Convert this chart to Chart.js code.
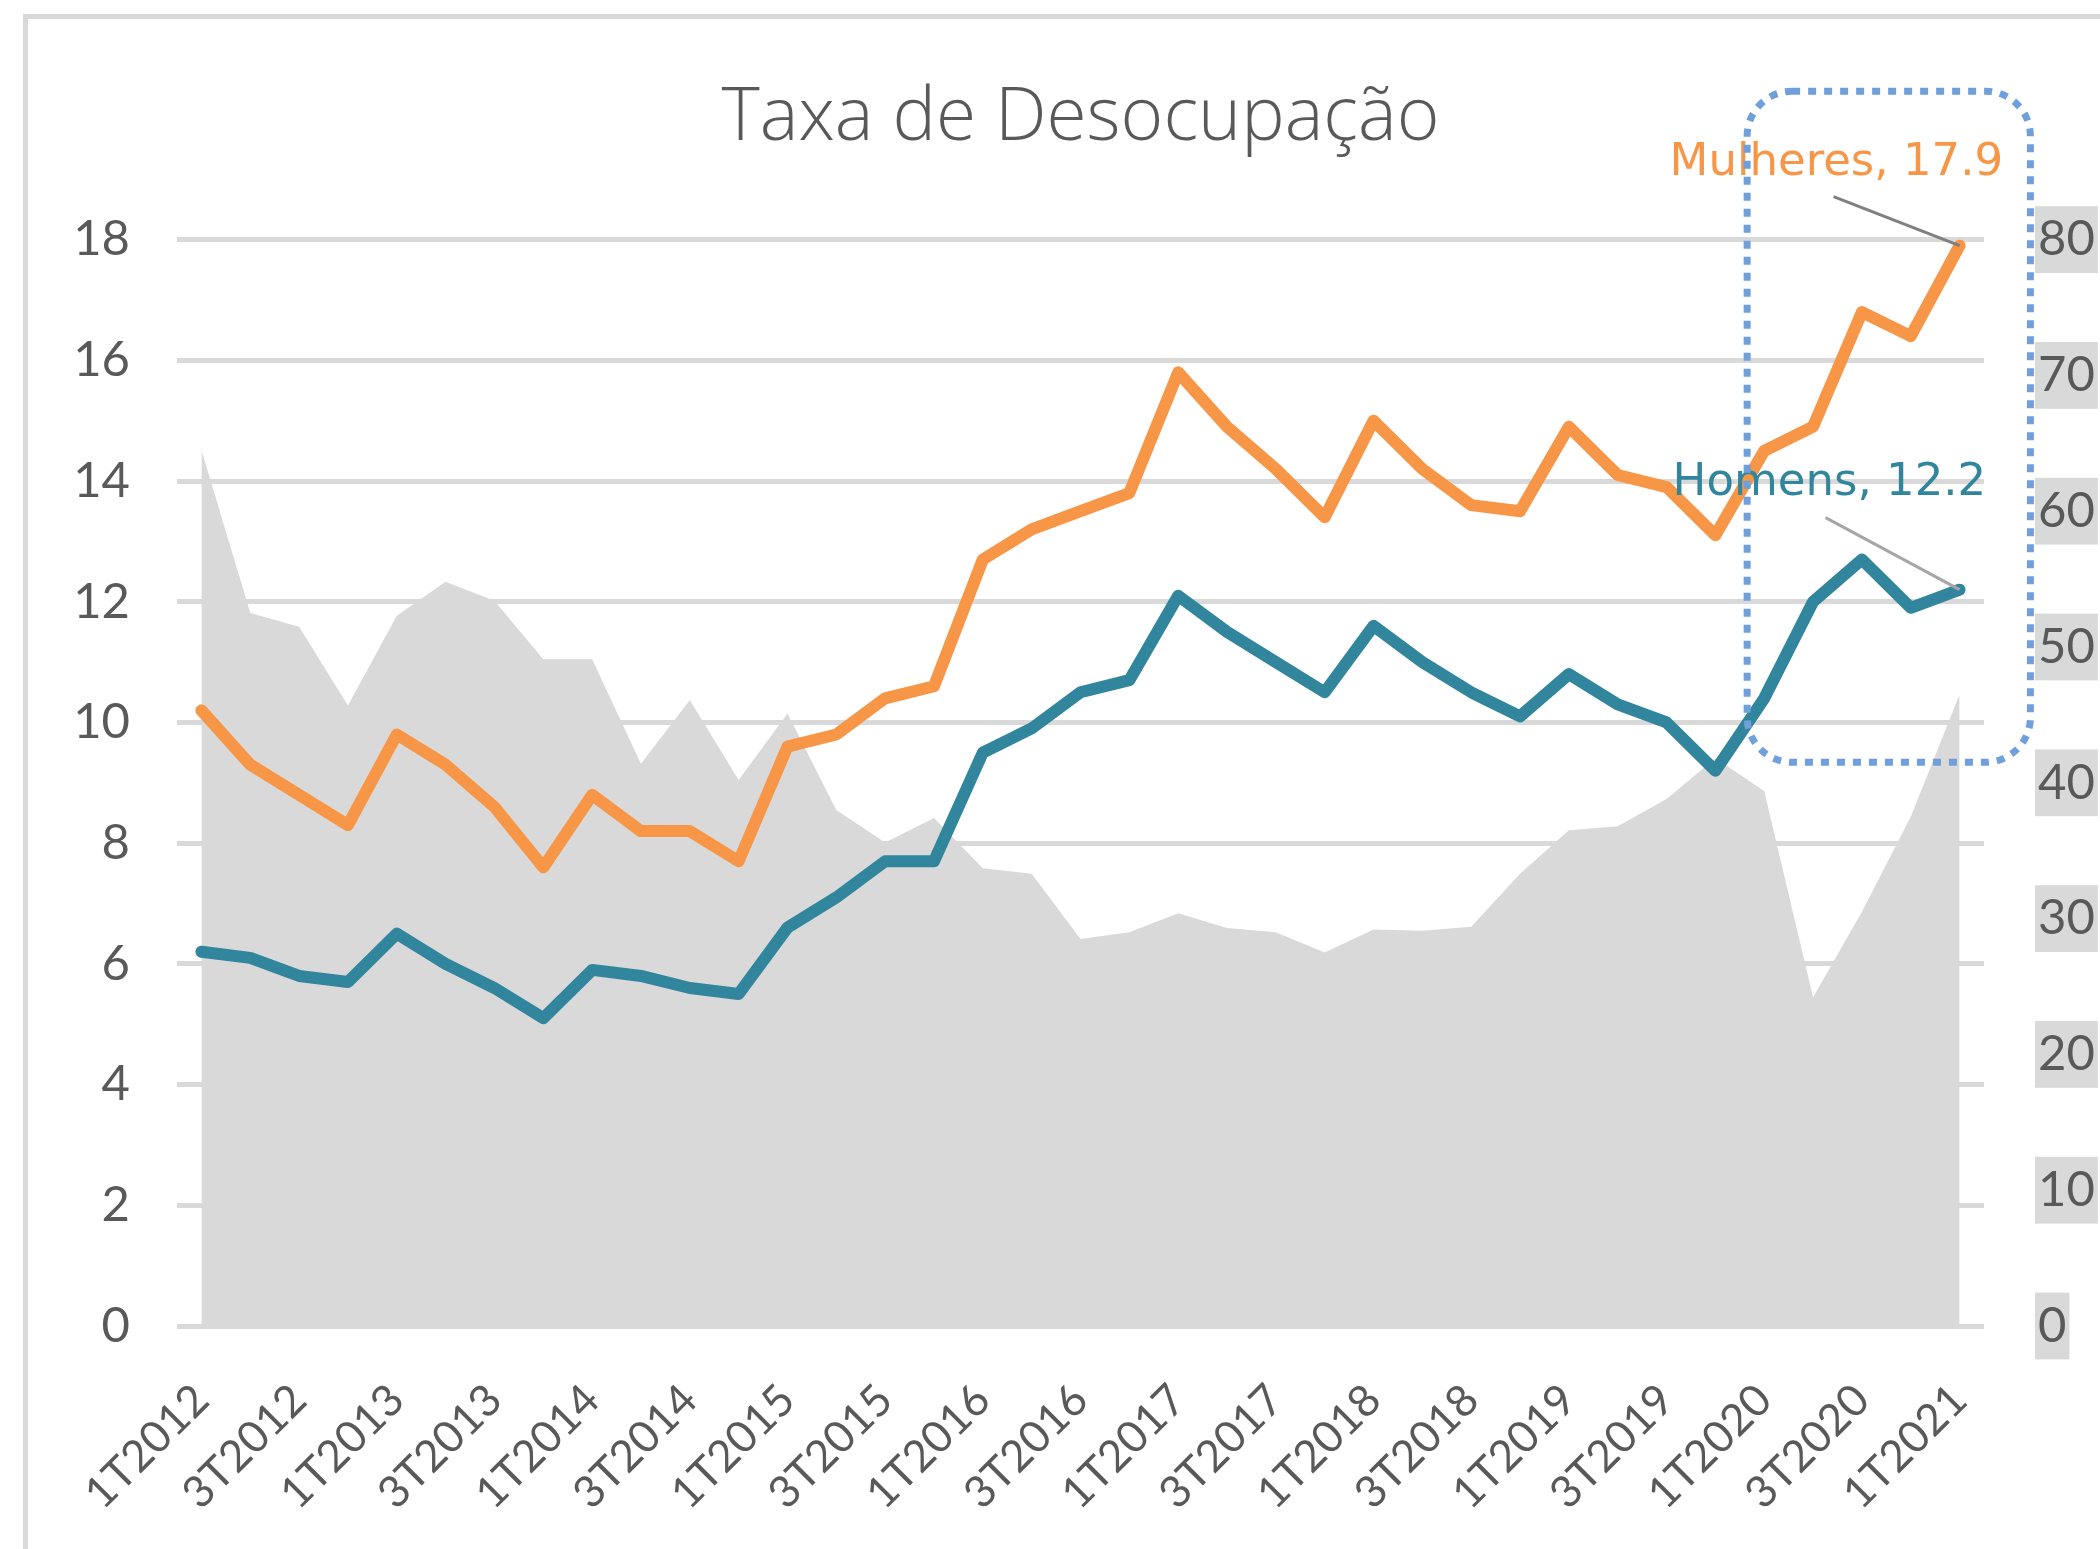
<!DOCTYPE html>
<html>
<head>
<meta charset="utf-8">
<script src="https://cdn.jsdelivr.net/npm/chart.js@4.4.1/dist/chart.umd.min.js"></script>
<style>
html,body{margin:0;padding:0;background:#ffffff;overflow:hidden;}
canvas{display:block;}
</style>
</head>
<body>
<canvas id="c" width="2100" height="1549"></canvas>
<script>
// ---- data ----
const categories = [
  '1T2012','2T2012','3T2012','4T2012',
  '1T2013','2T2013','3T2013','4T2013',
  '1T2014','2T2014','3T2014','4T2014',
  '1T2015','2T2015','3T2015','4T2015',
  '1T2016','2T2016','3T2016','4T2016',
  '1T2017','2T2017','3T2017','4T2017',
  '1T2018','2T2018','3T2018','4T2018',
  '1T2019','2T2019','3T2019','4T2019',
  '1T2020','2T2020','3T2020','4T2020',
  '1T2021'
];
const mulheres = [10.2, 9.3, 8.8, 8.3, 9.8, 9.3, 8.6, 7.6, 8.8, 8.2, 8.2, 7.7,
                  9.6, 9.8, 10.4, 10.6, 12.7, 13.2, 13.5, 13.8, 15.8, 14.9, 14.2, 13.4,
                  15.0, 14.2, 13.6, 13.5, 14.9, 14.1, 13.9, 13.1, 14.5, 14.9, 16.8, 16.4, 17.9];
const homens = [6.2, 6.1, 5.8, 5.7, 6.5, 6.0, 5.6, 5.1, 5.9, 5.8, 5.6, 5.5,
                6.6, 7.1, 7.7, 7.7, 9.5, 9.9, 10.5, 10.7, 12.1, 11.5, 11.0, 10.5,
                11.6, 11.0, 10.5, 10.1, 10.8, 10.3, 10.0, 9.2, 10.4, 12.0, 12.7, 11.9, 12.2];
const diferenca = [64.5, 52.5, 51.5, 45.7, 52.3, 54.8, 53.4, 49.1, 49.1, 41.4, 46.1, 40.2,
                   45.1, 38.0, 35.6, 37.4, 33.7, 33.3, 28.5, 29.0, 30.4, 29.3, 29.0, 27.5,
                   29.2, 29.1, 29.4, 33.3, 36.5, 36.8, 38.8, 41.8, 39.4, 24.2, 30.5, 37.5, 46.5];
const leftAxis = {min: 0, max: 18, step: 2};
const rightAxis = {min: 0, max: 80, step: 10};
const titleText = 'Taxa de Desocupação';

// ---- styles ----
const TEXT = '#595959';
const GRID = '#D9D9D9';
const ORANGE = '#F79646';
const TEAL = '#31859C';
const tickFont = {family: 'Lato', size: 49};

const framePlugin = {
  id: 'frame',
  beforeDraw(chart) {
    const c = chart.ctx;
    c.save();
    c.fillStyle = '#FFFFFF';
    c.fillRect(0, 0, chart.width, chart.height);
    c.fillStyle = GRID;
    c.fillRect(23, 14, chart.width - 23, 5);
    c.fillRect(23, 14, 5, chart.height - 14);
    c.restore();
  }
};

// data labels for the last point of each line series, with leader lines
const labelSpecs = {
  0: {lx: -126, ly: -49, tx: -290, ty: -71, lead: '#7F7F7F'},
  1: {lx: -134, ly: -72, tx: -287, ty: -95, lead: '#A6A6A6'}
};
const labelPlugin = {
  id: 'endLabels',
  afterDatasetsDraw(chart) {
    const c = chart.ctx;
    c.save();
    Object.keys(labelSpecs).forEach(k => {
      const i = +k;
      const s = labelSpecs[i];
      const ds = chart.data.datasets[i];
      const meta = chart.getDatasetMeta(i);
      const last = meta.data.length - 1;
      const p = meta.data[last];
      c.strokeStyle = s.lead;
      c.lineWidth = 3;
      c.beginPath();
      c.moveTo(p.x, p.y);
      c.lineTo(p.x + s.lx, p.y + s.ly);
      c.stroke();
      c.fillStyle = ds.borderColor;
      c.font = '45px "DejaVu Sans"';
      c.textAlign = 'left';
      c.textBaseline = 'alphabetic';
      c.fillText(ds.label + ', ' + ds.data[last].toFixed(1), p.x + s.tx, p.y + s.ty);
    });
    c.restore();
  }
};

// dotted rounded highlight box around the last quarters
const boxPlugin = {
  id: 'highlightBox',
  afterDraw(chart) {
    const xs = chart.scales.x, ys = chart.scales.y;
    const x1 = xs.getPixelForValue(31.65), x2 = xs.getPixelForValue(37.45);
    const y1 = ys.getPixelForValue(20.46), y2 = ys.getPixelForValue(9.34);
    const r = 45;
    const c = chart.ctx;
    c.save();
    c.strokeStyle = '#6FA0DC';
    c.lineWidth = 7;
    c.setLineDash([8, 8]);
    c.beginPath();
    c.moveTo(x1 + r, y1);
    c.lineTo(x2 - r, y1);
    c.arcTo(x2, y1, x2, y1 + r, r);
    c.lineTo(x2, y2 - r);
    c.arcTo(x2, y2, x2 - r, y2, r);
    c.lineTo(x1 + r, y2);
    c.arcTo(x1, y2, x1, y2 - r, r);
    c.lineTo(x1, y1 + r);
    c.arcTo(x1, y1, x1 + r, y1, r);
    c.closePath();
    c.stroke();
    c.restore();
  }
};

new Chart(document.getElementById('c'), {
  type: 'line',
  data: {
    labels: categories,
    datasets: [
      {label: 'Mulheres', data: mulheres, borderColor: ORANGE, backgroundColor: ORANGE,
       borderWidth: 12, pointRadius: 0, fill: false, yAxisID: 'y', order: 1,
       borderJoinStyle: 'round', borderCapStyle: 'round', tension: 0},
      {label: 'Homens', data: homens, borderColor: TEAL, backgroundColor: TEAL,
       borderWidth: 12, pointRadius: 0, fill: false, yAxisID: 'y', order: 2,
       borderJoinStyle: 'round', borderCapStyle: 'round', tension: 0},
      {label: 'Diferença (%)', data: diferenca, borderColor: GRID, backgroundColor: GRID,
       borderWidth: 0, pointRadius: 0, fill: 'origin', yAxisID: 'y2', order: 3, tension: 0}
    ]
  },
  options: {
    responsive: false,
    animation: false,
    devicePixelRatio: 1,
    layout: {padding: {left: 0, right: 0, top: 75, bottom: 0}},
    plugins: {
      legend: {display: false},
      tooltip: {enabled: false},
      title: {display: true, text: titleText, color: TEXT, fullSize: false,
              font: {family: 'Open Sans', size: 73, weight: 300},
              padding: {top: 0, bottom: 77}}
    },
    scales: {
      x: {
        offset: true,
        grid: {display: false, drawTicks: false},
        border: {display: false},
        ticks: {autoSkip: false, minRotation: 45, maxRotation: 45, color: TEXT,
                font: {family: 'Lato', size: 44}, padding: 48,
                callback: (v, i) => (i % 2 === 0 ? categories[i] : '')},
        afterFit: s => { s.height = 223; }
      },
      y: {
        position: 'left', min: leftAxis.min, max: leftAxis.max,
        ticks: {stepSize: leftAxis.step, color: TEXT, font: tickFont, padding: 47},
        grid: {color: GRID, lineWidth: 5, drawTicks: false},
        border: {display: false},
        afterFit: s => { s.width = 177; }
      },
      y2: {
        position: 'right', min: rightAxis.min, max: rightAxis.max,
        ticks: {stepSize: rightAxis.step, color: TEXT, font: tickFont, padding: 54,
                showLabelBackdrop: true, backdropColor: GRID,
                backdropPadding: {left: 3, right: 3, top: 4, bottom: 4}},
        grid: {display: false, drawTicks: false},
        border: {display: false},
        afterFit: s => { s.width = 116; }
      }
    }
  },
  plugins: [framePlugin, labelPlugin, boxPlugin]
});
</script>
</body>
</html>
